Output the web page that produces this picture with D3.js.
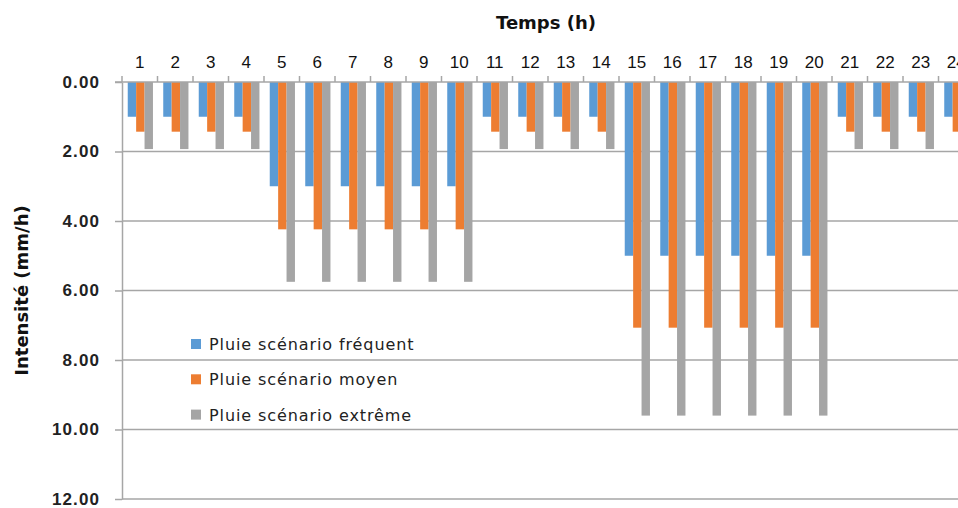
<!DOCTYPE html>
<html>
<head>
<meta charset="utf-8">
<script src="https://cdn.jsdelivr.net/npm/d3@7"></script>
<style>
  html, body { margin: 0; padding: 0; background: #fff; overflow: hidden; }
  svg { display: block; font-family: "DejaVu Sans", sans-serif; }
  .grid line { stroke: #a6a6a6; stroke-width: 1.5; }
  .axis path, .axis line { stroke: #a6a6a6; stroke-width: 1.5; }
</style>
</head>
<body>
<svg id="chart" width="958" height="508"></svg>
<script>
// hyetograph: 3 rainfall scenarios, 24 hourly steps
const hours = d3.range(1, 25).map(String);
const series = ["Pluie scénario fréquent", "Pluie scénario moyen", "Pluie scénario extrême"];
const colors = ["#5b9bd5", "#ed7d31", "#a5a5a5"];

const frequent = [1.0, 1.0, 1.0, 1.0, 3.0, 3.0, 3.0, 3.0, 3.0, 3.0, 1.0, 1.0, 1.0, 1.0,
  5.0, 5.0, 5.0, 5.0, 5.0, 5.0, 1.0, 1.0, 1.0, 1.0];
const moyen = [1.43, 1.43, 1.43, 1.43, 4.24, 4.24, 4.24, 4.24, 4.24, 4.24, 1.43, 1.43, 1.43, 1.43,
  7.07, 7.07, 7.07, 7.07, 7.07, 7.07, 1.43, 1.43, 1.43, 1.43];
const extreme = [1.93, 1.93, 1.93, 1.93, 5.75, 5.75, 5.75, 5.75, 5.75, 5.75, 1.93, 1.93, 1.93, 1.93,
  9.6, 9.6, 9.6, 9.6, 9.6, 9.6, 1.93, 1.93, 1.93, 1.93];
const values = [frequent, moyen, extreme];

const yTicks = [0, 2, 4, 6, 8, 10, 12];

(function () {
  const svg = d3.select("#chart");
  const m = { left: 122, top: 82, bottom: 499, right: 974 };

  const x = d3.scaleBand().domain(hours).range([m.left, m.right]).padding(0);
  const y = d3.scaleLinear().domain([0, 12]).range([m.top, m.bottom]);

  // cluster of 3 bars inside each hour step, Excel-like gap width
  const gap = x.bandwidth() * 0.29;
  const xs = d3.scaleBand().domain(d3.range(3))
    .range([gap / 2 + 0.6, x.bandwidth() - gap / 2 + 0.6]).padding(0);

  // horizontal gridlines
  svg.append("g").attr("class", "grid")
    .selectAll("line")
    .data(yTicks.filter(d => d > 0))
    .join("line")
    .attr("x1", m.left).attr("x2", m.right)
    .attr("y1", d => y(d)).attr("y2", d => y(d));

  // bars
  const rows = hours.map((h, i) => values.map((v, s) => ({ h, s, v: v[i] }))).flat();
  svg.append("g")
    .selectAll("rect")
    .data(rows)
    .join("rect")
    .attr("x", d => x(d.h) + xs(d.s))
    .attr("width", xs.bandwidth())
    .attr("y", y(0))
    .attr("height", d => y(d.v) - y(0))
    .attr("fill", d => colors[d.s]);

  // left axis
  const yAxis = svg.append("g").attr("class", "axis")
    .attr("transform", `translate(${m.left},0)`)
    .call(d3.axisLeft(y).tickValues(yTicks).tickSize(7).tickSizeOuter(0).tickPadding(15)
      .tickFormat(d3.format(".2f")));
  yAxis.selectAll("text")
    .attr("fill", "#222")
    .style("font-size", "17px")
    .style("font-weight", "bold")
    .style("letter-spacing", "1.1px");

  // top axis with ticks at the category boundaries
  const xAxis = svg.append("g").attr("class", "axis")
    .attr("transform", `translate(0,${m.top})`)
    .call(d3.axisTop(x).tickSize(0).tickPadding(14));
  xAxis.select(".domain").attr("d", `M${m.left - 7},0H${m.right}`);
  xAxis.selectAll("text")
    .attr("fill", "#111")
    .style("font-size", "17px");
  xAxis.selectAll(".bound")
    .data(hours)
    .join("line")
    .attr("class", "bound")
    .attr("x1", d => x(d) + x.bandwidth()).attr("x2", d => x(d) + x.bandwidth())
    .attr("y1", 0).attr("y2", -6);
  xAxis.append("line")
    .attr("x1", m.left).attr("x2", m.left).attr("y1", 0).attr("y2", -6);

  // titles
  svg.append("text")
    .attr("x", (m.left + m.right) / 2 - 2).attr("y", 29)
    .attr("text-anchor", "middle")
    .style("font-size", "18px").style("font-weight", "bold")
    .attr("fill", "#111")
    .text("Temps (h)");

  svg.append("text")
    .attr("transform", `translate(28,${(m.top + m.bottom) / 2}) rotate(-90)`)
    .attr("text-anchor", "middle")
    .style("font-size", "18px").style("font-weight", "bold")
    .attr("fill", "#111")
    .text("Intensité (mm/h)");

  // legend
  const legend = svg.append("g").attr("transform", "translate(191,344)");
  const item = legend.selectAll("g")
    .data(series)
    .join("g")
    .attr("transform", (d, i) => `translate(0,${i * 35.3})`);
  item.append("rect")
    .attr("x", 0).attr("y", -5).attr("width", 10).attr("height", 10)
    .attr("fill", (d, i) => colors[i]);
  item.append("text")
    .attr("x", 18).attr("y", 6)
    .style("font-size", "16px")
    .style("letter-spacing", "0.9px")
    .attr("fill", "#222")
    .text(d => d);
})();
</script>
</body>
</html>
